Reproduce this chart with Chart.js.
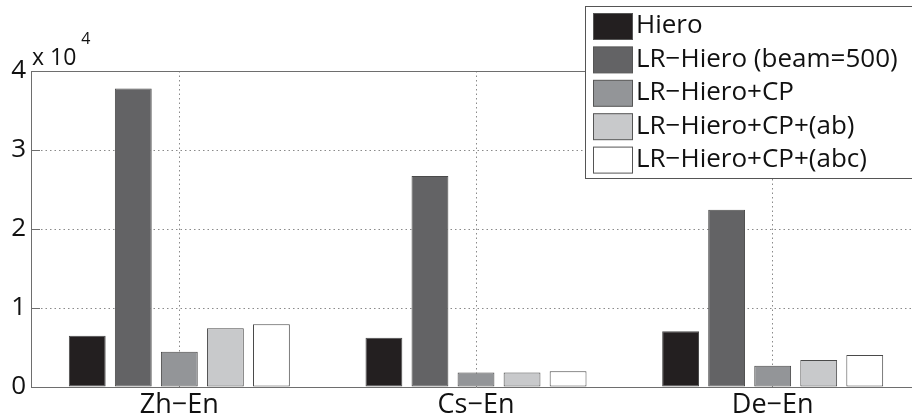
<!DOCTYPE html>
<html><head><meta charset="utf-8">
<script src="https://cdn.jsdelivr.net/npm/chart.js@4.4.0/dist/chart.umd.min.js"></script>
<style>
html,body{margin:0;padding:0;overflow:hidden;background:#fff;width:912px;height:420px}
#wrap{position:relative;width:930px;height:420px}
</style></head><body>
<div id="wrap"><canvas id="c" width="930" height="420"></canvas></div>
<script>
// Language pairs on the x axis
const pairs = ['Zh\u2212En', 'Cs\u2212En', 'De\u2212En'];
// Decoder configurations
const systems = ['Hiero', 'LR\u2212Hiero (beam=500)', 'LR\u2212Hiero+CP', 'LR\u2212Hiero+CP+(ab)', 'LR\u2212Hiero+CP+(abc)'];
// Values per configuration, one per language pair
const hiero   = [6500, 6250, 7050];
const lrHiero = [37800, 26700, 22450];
const lrCP    = [4450, 1850, 2700];
const lrCPab  = [7450, 1850, 3420];
const lrCPabc = [7950, 2000, 4050];
// Axis ticks (shown in units of 10^exponent)
const yTicks = [0, 1, 2, 3, 4];
const exponent = 4;

const fills = ['#231f20', '#636365', '#939598', '#c8c9cb', '#ffffff'];
const FONT = '"Open Sans", "Noto Sans", sans-serif';
const scaleFactor = Math.pow(10, exponent);
const seriesValues = [hiero, lrHiero, lrCP, lrCPab, lrCPabc];

const datasets = systems.map((name, i) => ({
  label: name,
  data: seriesValues[i],
  backgroundColor: fills[i],
  borderColor: '#4a4a4a',
  borderWidth: 1,
  borderSkipped: false,
  categoryPercentage: 0.776,
  barPercentage: 0.8
}));

// Frame, inward ticks, exponent label and legend box
const decorations = {
  id: 'decorations',
  afterDraw(chart) {
    const ctx = chart.ctx;
    const a = chart.chartArea;
    const ys = chart.scales.y;
    ctx.save();
    // top frame line
    ctx.strokeStyle = '#6e6e6e';
    ctx.lineWidth = 1;
    ctx.beginPath();
    ctx.moveTo(a.left, Math.round(a.top) + 0.5);
    ctx.lineTo(a.right, Math.round(a.top) + 0.5);
    ctx.stroke();
    // inward ticks on the value axis
    yTicks.forEach(t => {
      const y = Math.round(ys.getPixelForValue(t * scaleFactor)) + 0.5;
      ctx.beginPath();
      ctx.moveTo(a.left, y);
      ctx.lineTo(a.left + 9, y);
      ctx.stroke();
    });
    // exponent label
    ctx.fillStyle = '#111';
    ctx.textBaseline = 'alphabetic';
    ctx.textAlign = 'left';
    ctx.font = '23px ' + FONT;
    ctx.fillText('x 10', a.left + 1, a.top - 6);
    const w = ctx.measureText('x 10 ').width;
    ctx.font = '16px ' + FONT;
    ctx.fillText(String(exponent), a.left + w, a.top - 27);

    // legend
    const bx = 585.5, by = 6.5, bw = 340, bh = 172;
    ctx.fillStyle = '#fff';
    ctx.fillRect(bx, by, bw, bh);
    ctx.strokeStyle = '#555';
    ctx.strokeRect(bx, by, bw, bh);
    ctx.font = '26px ' + FONT;
    ctx.textBaseline = 'middle';
    chart.data.datasets.forEach((ds, i) => {
      const sy = 13.5 + i * 33.4;
      ctx.fillStyle = ds.backgroundColor;
      ctx.fillRect(593.5, sy, 39, 26);
      ctx.strokeStyle = '#555';
      ctx.strokeRect(593.5, sy, 39, 26);
      ctx.fillStyle = '#111';
      ctx.fillText(ds.label, 636, sy + 12.5);
    });
    ctx.restore();
  }
};

new Chart(document.getElementById('c'), {
  type: 'bar',
  data: { labels: pairs, datasets },
  options: {
    responsive: false,
    animation: false,
    devicePixelRatio: 1,
    layout: { padding: { top: 71, right: 9, left: 0, bottom: 0 } },
    plugins: { legend: { display: false }, tooltip: { enabled: false } },
    scales: {
      x: {
        offset: true,
        grid: { offset: false, drawTicks: false, color: '#8a8a8a', lineWidth: 1 },
        border: { display: true, color: '#6e6e6e', width: 1, dash: [1.5, 3] },
        ticks: { color: '#111', font: { family: FONT, size: 27 }, padding: 2 },
        afterFit(s) { s.height = 33; }
      },
      y: {
        min: 0,
        max: yTicks[yTicks.length - 1] * scaleFactor,
        afterBuildTicks(s) { s.ticks = yTicks.map(v => ({ value: v * scaleFactor })); },
        grid: {
          drawTicks: false,
          color: c => (c.tick && (c.tick.value === 0 || c.tick.value === yTicks[yTicks.length - 1] * scaleFactor)) ? 'rgba(0,0,0,0)' : '#8a8a8a',
          lineWidth: 1
        },
        border: { display: true, color: '#6e6e6e', width: 1, dash: [1.5, 3] },
        ticks: {
          color: '#111',
          font: { family: FONT, size: 26 },
          padding: 5,
          callback: v => String(v / scaleFactor)
        },
        afterFit(s) { s.width = 31; }
      }
    }
  },
  plugins: [decorations]
});
</script>
</body></html>
